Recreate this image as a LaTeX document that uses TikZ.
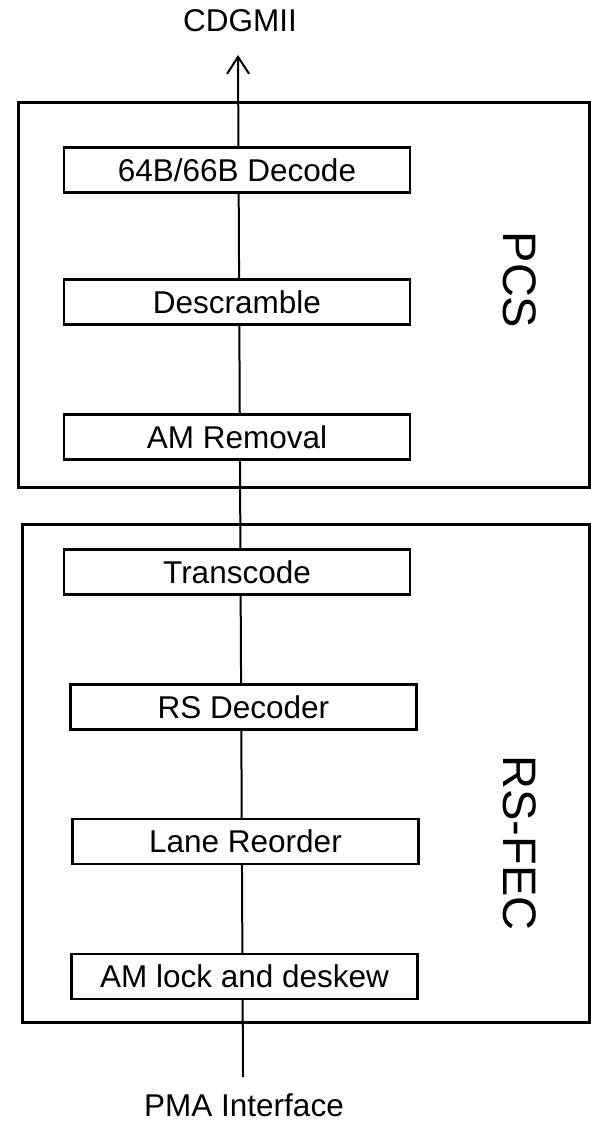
\documentclass[tikz,border=0pt]{standalone}
\usepackage{fontspec}
\setmainfont{Liberation Sans}
\usetikzlibrary{arrows.meta}
\tikzset{
  blk/.style={draw, line width=2.5pt, fill=white, inner sep=0pt,
    minimum width=346pt, minimum height=45pt,
    font=\fontsize{31.5}{36}\selectfont},
  outer/.style={draw, line width=3pt, inner sep=0pt},
  side/.style={rotate=-90, font=\fontsize{47}{52}\selectfont},
  lbl/.style={font=\fontsize{31.5}{36}\selectfont, inner sep=0pt},
  conn/.style={line width=2pt},
}
\begin{document}
\begin{tikzpicture}[x=1pt,y=-1pt]
\useasboundingbox (0,0) rectangle (590,1123);
% outer boxes
\node[outer, minimum width=571pt, minimum height=384pt] (pcs) at (303.5,295) {};
\node[outer, minimum width=567pt, minimum height=498pt] (fec) at (305.5,773) {};
\node[side] (pcslbl) at (520,280) {PCS};
\node[side] (feclbl) at (520,843) {RS-FEC};
% connector
\coordinate (bot) at (243,1077);
\coordinate (tip) at (238,55);
\draw[conn, -{Straight Barb[length=17pt,width=22pt,line width=2pt]}] (bot) -- (tip);
% labels
\node[lbl, anchor=base] (cdgmii) at (240,32) {CDGMII};
\node[lbl, anchor=base] (pma) at (244,1116) {PMA Interface};
% inner blocks
\node[blk] (dec) at (237,170) {64B/66B Decode};
\node[blk] (desc) at (237,302) {Descramble};
\node[blk] (amr) at (237,437) {AM Removal};
\node[blk] (trans) at (237,572) {Transcode};
\node[blk] (rsd) at (243.5,707) {RS Decoder};
\node[blk] (lane) at (245.5,841.5) {Lane Reorder};
\node[blk] (lock) at (244.5,976.5) {AM lock and deskew};
\end{tikzpicture}
\end{document}
